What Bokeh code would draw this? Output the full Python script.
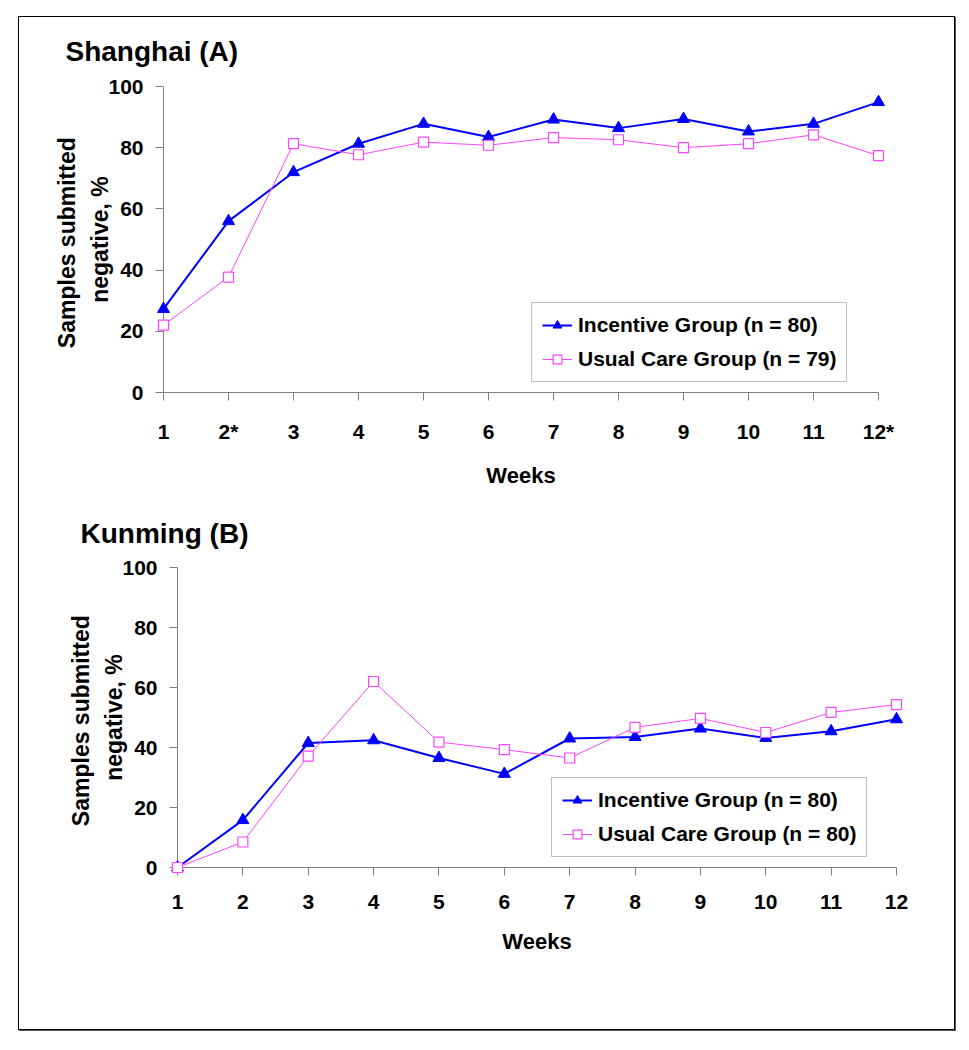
import math
from bokeh.plotting import figure
from bokeh.models import Range1d, FixedTicker, Legend, LegendItem
from bokeh.layouts import column
from bokeh.embed import file_html
from bokeh.resources import INLINE

# ---- data ----
weeks = [1, 2, 3, 4, 5, 6, 7, 8, 9, 10, 11, 12]
sh_week_labels = ["1", "2*", "3", "4", "5", "6", "7", "8", "9", "10", "11", "12*"]
km_week_labels = ["1", "2", "3", "4", "5", "6", "7", "8", "9", "10", "11", "12"]
y_ticks = [0, 20, 40, 60, 80, 100]

sh_incentive = [27.3, 56, 72, 81.3, 87.8, 83.5, 89.2, 86.4, 89.4, 85.3, 87.8, 94.9]
sh_usual = [22, 37.7, 81.3, 77.7, 81.8, 80.8, 83.3, 82.6, 80, 81.3, 84.2, 77.4]
km_incentive = [0, 15.8, 41.5, 42.4, 36.5, 31.2, 43, 43.5, 46.3, 43.2, 45.4, 49.4]
km_usual = [0, 8.5, 37.1, 62, 41.8, 39.3, 36.5, 46.7, 49.7, 45, 51.7, 54.3]

sh_legend = ["Incentive Group (n = 80)", "Usual Care Group (n = 79)"]
km_legend = ["Incentive Group (n = 80)", "Usual Care Group (n = 80)"]

FONT = "Liberation Sans"
BLUE = "#0000FF"
PINK = "#FF44FF"
AXIS = "#808080"


def make_chart(title, week_labels, inc, usu, leg, width, height, mbl, mbr, mbt, mbb,
               title_dx, title_standoff, leg_loc):
    p = figure(width=width, height=height, x_range=Range1d(1, 12), y_range=Range1d(0, 100),
               output_backend="svg", toolbar_location=None,
               min_border_left=mbl, min_border_right=mbr, min_border_top=mbt, min_border_bottom=mbb)
    try:
        p.frame_align = False
    except AttributeError:
        pass
    p.xgrid.visible = False
    p.ygrid.visible = False
    p.outline_line_color = None
    p.background_fill_color = "white"
    p.border_fill_color = "white"

    p.title.text = title
    p.title.align = "left"
    p.title.vertical_align = "top"
    p.title.offset = title_dx
    p.title.standoff = title_standoff
    p.title.text_font = FONT
    p.title.text_font_style = "bold"
    p.title.text_font_size = "28px"
    p.title.text_color = "black"

    for ax in (p.xaxis, p.yaxis):
        ax.axis_line_color = AXIS
        ax.axis_line_width = 1
        ax.major_tick_line_color = AXIS
        ax.major_tick_in = 0
        ax.major_tick_out = 8
        ax.minor_tick_line_color = None
        ax.major_label_text_font = FONT
        ax.major_label_text_font_style = "bold"
        ax.major_label_text_font_size = "21px"
        ax.major_label_text_color = "black"
        ax.axis_label_text_font = FONT
        ax.axis_label_text_font_style = "bold"
        ax.axis_label_text_color = "black"

    p.xaxis.ticker = FixedTicker(ticks=weeks)
    p.xaxis.major_label_overrides = {w: lab for w, lab in zip(weeks, week_labels)}
    p.xaxis.major_label_standoff = 19
    p.xaxis.axis_label = "Weeks"
    p.xaxis.axis_label_text_font_size = "22px"
    p.xaxis.axis_label_standoff = 17

    p.yaxis.ticker = FixedTicker(ticks=y_ticks)
    p.yaxis.major_label_standoff = 12
    p.yaxis.axis_label = "Samples  submitted\nnegative, %"
    p.yaxis.axis_label_text_font_size = "23px"
    p.yaxis.axis_label_text_line_height = 1.3
    p.yaxis.axis_label_standoff = -8

    r1 = p.line(weeks, inc, line_color=BLUE, line_width=2, level="overlay")
    r2 = p.scatter(weeks, inc, marker="triangle", size=12, fill_color=BLUE, line_color=BLUE,
                   level="overlay")
    r3 = p.line(weeks, usu, line_color=PINK, line_width=1, level="overlay")
    r4 = p.scatter(weeks, usu, marker="square", size=10, fill_color="white", line_color=PINK,
                   line_width=1.2, level="overlay")

    legend = Legend(items=[LegendItem(label=leg[0], renderers=[r1, r2]),
                           LegendItem(label=leg[1], renderers=[r3, r4])],
                    location=leg_loc)
    legend.label_text_font = FONT
    legend.label_text_font_style = "bold"
    legend.label_text_font_size = "21px"
    legend.label_text_color = "black"
    legend.border_line_color = AXIS
    legend.border_line_width = 1
    legend.background_fill_color = "white"
    legend.background_fill_alpha = 1
    legend.padding = 10
    legend.spacing = 10
    legend.margin = 0
    legend.glyph_width = 30
    legend.glyph_height = 22
    legend.label_height = 22
    legend.label_standoff = 6
    p.add_layout(legend)
    return p


p1 = make_chart("Shanghai (A)", sh_week_labels, sh_incentive, sh_usual, sh_legend,
                935, 483, 144, 76, 69, 108, -98, 35, (368, 10))
p2 = make_chart("Kunming (B)", km_week_labels, km_incentive, km_usual, km_legend,
                935, 529, 158, 58, 67, 162, -97, 33, (374, 10))

layout = column(p1, p2, spacing=0, margin=(16, 0, 0, 18),
                styles={"border": "1px solid #000", "box-shadow": "1px 1px 0 #555"})

open("out.html", "w").write(file_html(layout, INLINE))
